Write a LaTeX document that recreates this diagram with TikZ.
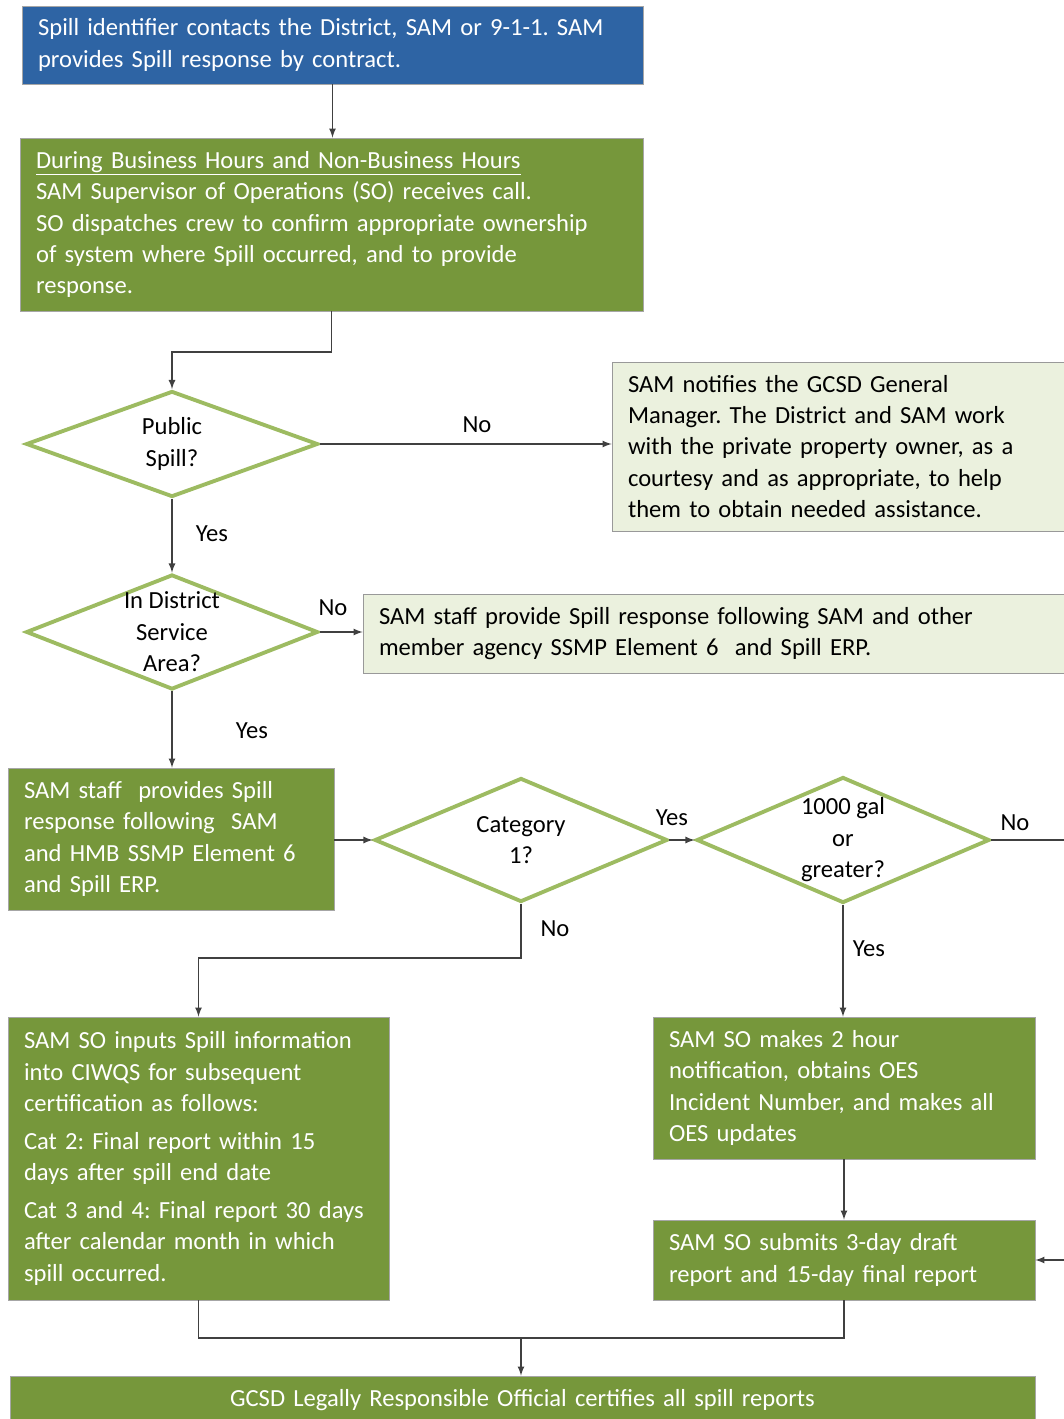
\documentclass[tikz,border=0pt]{standalone}
\usepackage{fontspec}
\setmainfont{Carlito}
\usetikzlibrary{shapes.geometric}
\definecolor{spillblue}{HTML}{2E64A4}
\definecolor{olivebox}{HTML}{76973B}
\definecolor{olivelight}{HTML}{EBF1DE}
\definecolor{oliveline}{HTML}{9DBB61}
\definecolor{flowline}{HTML}{404040}
\begin{document}
\frenchspacing
\begin{tikzpicture}[x=0.02cm,y=-0.02cm,
    every node/.style={font=\fontsize{14}{17.9}\selectfont},
    darkbox/.style={rectangle,draw=gray!70,fill=olivebox,text=white,align=left,inner xsep=0.32cm,inner ysep=0.1cm},
    lightbox/.style={rectangle,draw=gray!80,fill=olivelight,text=black,align=left,inner xsep=0.32cm,inner ysep=0.1cm},
    decision/.style={diamond,draw=oliveline,line width=2.2pt,fill=white,inner sep=0pt},
    answer/.style={text=black},
    flow/.style={draw=flowline,line width=0.8pt,-latex},
    plainflow/.style={draw=flowline,line width=0.8pt}]
        \useasboundingbox (0,0) rectangle (1064,1419);
        % boxes
        \node[darkbox,fill=spillblue,text width=11.78cm,minimum height=1.56cm] (spillcall) at (332.5,45)
            {Spill identifier contacts the District, SAM or 9-1-1. SAM\\provides Spill response by contract.};
        \node[darkbox,text width=11.82cm,minimum height=3.46cm] (sohours) at (331.5,224.5)
            {\underline{During Business Hours and Non-Business Hours}\\SAM Supervisor of Operations (SO) receives call.\\SO dispatches crew to confirm appropriate ownership\\of system where Spill occurred, and to provide\\response.};
        \node[decision,minimum width=5.84cm,minimum height=2.12cm] (pubspill) at (172,444) {};
        \node[align=center] (pubspilltxt) at (pubspill.center) {Public\\Spill?};
        \node[lightbox,text width=8.96cm,minimum height=3.38cm] (privatebox) at (852,446.5)
            {SAM notifies the GCSD General\\Manager. The District and SAM work\\with the private property owner, as a\\courtesy and as appropriate, to help\\them to obtain needed assistance.};
        \node[decision,minimum width=5.84cm,minimum height=2.30cm] (indistrict) at (172,632) {};
        \node[align=center] (indistricttxt) at (indistrict.center) {In District\\Service\\Area?};
        \node[lightbox,text width=13.7cm,minimum height=1.58cm] (otherbox) at (721.5,633.5)
            {SAM staff provide Spill response following SAM and other\\member agency SSMP Element 6~ and Spill ERP.};
        \node[darkbox,text width=5.88cm,minimum height=2.84cm] (samstaff) at (171,839)
            {SAM staff~ provides Spill\\response following~ SAM\\and HMB SSMP Element 6\\and Spill ERP.};
        \node[decision,minimum width=5.86cm,minimum height=2.48cm] (cat1) at (521,840) {};
        \node[align=center] (cat1txt) at (cat1.center) {Category\\1?};
        \node[decision,minimum width=5.86cm,minimum height=2.52cm] (gal) at (843,840) {};
        \node[align=center] (galtxt) at (gal.center) {1000 gal\\or\\greater?};
        \node[darkbox,text width=6.98cm,minimum height=5.66cm] (ciwqs) at (198.5,1158.5)
            {SAM SO inputs Spill information\\into CIWQS for subsequent\\certification as follows:\\[3.5pt]Cat 2: Final report within 15\\days after spill end date\\[3.5pt]Cat 3 and 4: Final report 30 days\\after calendar month in which\\spill occurred.};
        \node[darkbox,text width=7.0cm,minimum height=2.84cm] (twohour) at (844,1088)
            {SAM SO makes 2 hour\\notification, obtains OES\\Incident Number, and makes all\\OES updates};
        \node[darkbox,text width=7.0cm,minimum height=1.6cm] (draftrep) at (844,1260)
            {SAM SO submits 3-day draft\\report and 15-day final report};
        \node[darkbox,align=center,text width=19.86cm,minimum height=0.96cm] (lro) at (522.5,1400)
            {GCSD Legally Responsible Official certifies all spill reports};
        % connectors
        \coordinate (galturn) at (1090,840);
        \coordinate (merge) at (521,1338);
        \draw[flow] (spillcall.south) -- (spillcall.south |- sohours.north);
        \draw[flow] (sohours.south) -- (sohours.south |- 0,352) -| (pubspill.north);
        \draw[flow] (pubspill.east) -- (pubspill.east -| privatebox.west);
        \draw[flow] (pubspill.south) -- (indistrict.north);
        \draw[flow] (indistrict.east) -- (indistrict.east -| otherbox.west);
        \draw[flow] (indistrict.south) -- (indistrict.south |- samstaff.north);
        \draw[flow] (samstaff.east |- cat1.west) -- (cat1.west);
        \draw[flow] (cat1.east) -- (gal.west);
        \draw[flow] (gal.south) -- (gal.south |- twohour.north);
        \draw[flow] (twohour.south) -- (draftrep.north);
        \draw[flow] (gal.east) -- (galturn) |- (draftrep.east);
        \draw[flow] (cat1.south) -- (cat1.south |- 0,958) -| (ciwqs.north);
        \draw[plainflow] (ciwqs.south) |- (merge) -| (draftrep.south);
        \draw[flow] (merge) -- (merge |- lro.north);
        % answers
        \node[answer] (no1) at (477,425) {No};
        \node[answer] (yes1) at (212,534) {Yes};
        \node[answer] (no2) at (333,608) {No};
        \node[answer] (yes2) at (252,731) {Yes};
        \node[answer] (yes3) at (672,818) {Yes};
        \node[answer] (no3) at (1015,823) {No};
        \node[answer] (no4) at (555,929) {No};
        \node[answer] (yes4) at (869,949) {Yes};
\end{tikzpicture}
\end{document}
